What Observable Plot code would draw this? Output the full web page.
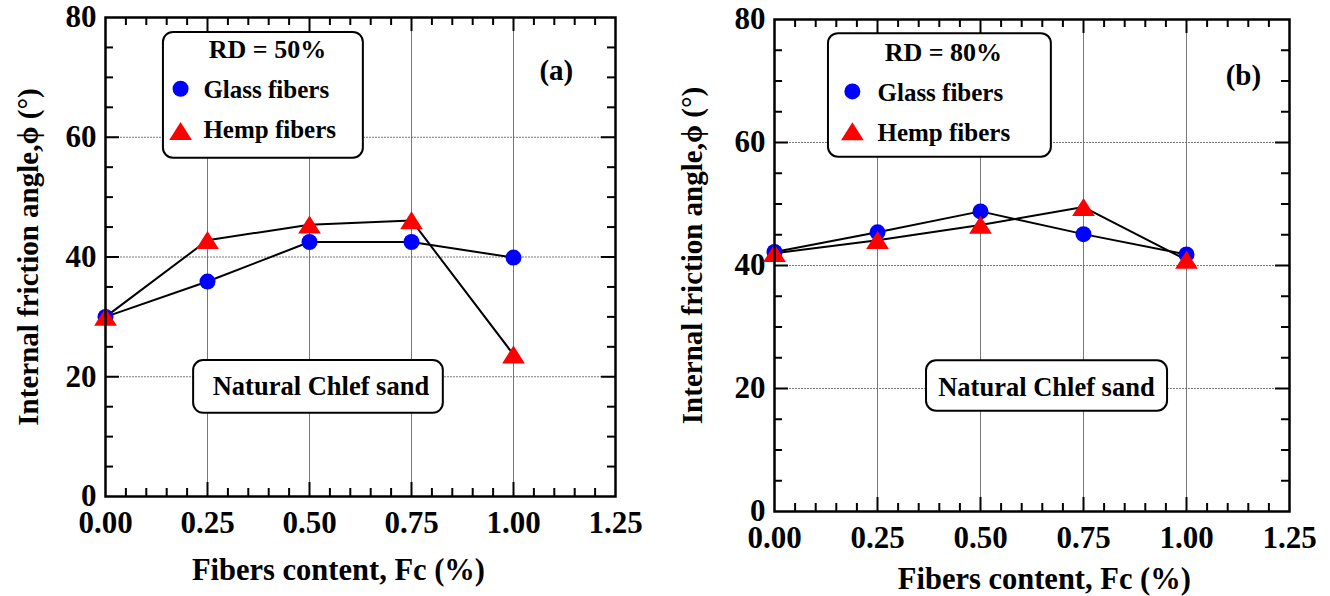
<!DOCTYPE html>
<html><head><meta charset="utf-8">
<script src="https://cdn.jsdelivr.net/npm/d3@7"></script>
<script src="https://cdn.jsdelivr.net/npm/@observablehq/plot@0.6"></script>
<style>
body{margin:0;background:#fff;}
#wrap{display:flex;width:1330px;height:596px;overflow:hidden;}
#wrap svg, #wrap svg text{font-family:"Liberation Serif","Times New Roman",serif !important;}
</style></head><body><div id="wrap"></div>
<script>
// ---- data ----
const fiberContent = [0, 0.25, 0.5, 0.75, 1.0];
const glassRD50 = [30.0, 35.9, 42.5, 42.5, 39.9];
const hempRD50  = [30.0, 42.8, 45.4, 46.1, 23.7];
const glassRD80 = [42.2, 45.4, 48.8, 45.1, 41.8];
const hempRD80  = [42.0, 44.1, 46.6, 49.5, 40.9];

const seriesNames = ["Glass fibers", "Hemp fibers"];
const panelTitles = ["RD = 50%", "RD = 80%"];
const panelTags = ["(a)", "(b)"];
const noteText = "Natural Chlef sand";
const xTitle = "Fibers content, Fc (%)";
const yTitle = "Internal friction angle,\u03d5 (\u00b0)";

const xMajor = [0, 0.25, 0.5, 0.75, 1.0, 1.25];
const xTickLabels = ["0.00", "0.25", "0.50", "0.75", "1.00", "1.25"];
const yMajor = [0, 20, 40, 60, 80];
const xMinor = [0.05, 0.10, 0.15, 0.20, 0.30, 0.35, 0.40, 0.45, 0.55, 0.60, 0.65, 0.70, 0.80, 0.85, 0.90, 0.95, 1.05, 1.10, 1.15, 1.20];
const yMinor = [5, 10, 15, 25, 30, 35, 45, 50, 55, 65, 70, 75];

const FONT = '"Liberation Serif","Times New Roman",serif';

// triangle centred on its bounding box
const triangle = {
  draw(ctx, size) {
    const r = Math.sqrt(size / Math.PI);
    ctx.moveTo(0, -1.15 * r);
    ctx.lineTo(1.42 * r, 1.1 * r);
    ctx.lineTo(-1.42 * r, 1.1 * r);
    ctx.closePath();
  }
};

function panel(cfg) {
  const W = 665, H = 596;
  const xPx = (W - cfg.ml - cfg.mr) / 1.25;
  const yPx = (H - cfg.mt - cfg.mb) / 80;
  const maj = 14, mnr = 8;
  const glass = fiberContent.map((x, i) => ({x, y: cfg.glass[i]}));
  const hemp = fiberContent.map((x, i) => ({x, y: cfg.hemp[i]}));
  const tickStyle = {stroke: "black", strokeWidth: 2};
  const rules = [];
  for (const [arr, len] of [[xMajor.slice(1, -1), maj], [xMinor, mnr]]) {
    rules.push(Plot.ruleX(arr, {x: d => d, y1: 0, y2: len / yPx, ...tickStyle}));
    rules.push(Plot.ruleX(arr, {x: d => d, y1: 80 - len / yPx, y2: 80, ...tickStyle}));
  }
  for (const [arr, len] of [[yMajor.slice(1, -1), maj], [yMinor, mnr]]) {
    rules.push(Plot.ruleY(arr, {y: d => d, x1: 0, x2: len / xPx, ...tickStyle}));
    rules.push(Plot.ruleY(arr, {y: d => d, x1: 1.25 - len / xPx, x2: 1.25, ...tickStyle}));
  }
  const L = cfg.legend, N = cfg.note;
  return Plot.plot({
    width: W, height: H,
    marginLeft: cfg.ml, marginRight: cfg.mr, marginTop: cfg.mt, marginBottom: cfg.mb,
    x: {domain: [0, 1.25]},
    y: {domain: [0, 80]},
    style: {fontFamily: FONT, fontWeight: "bold", color: "black", background: "white", overflow: "visible"},
    marks: [
      Plot.gridX(xMajor.slice(1, -1), {stroke: "#555", strokeOpacity: 1, strokeWidth: 0.8}),
      Plot.gridY(yMajor.slice(1, -1), {stroke: "#555", strokeOpacity: 1, strokeWidth: 0.8, strokeDasharray: "2,1"}),
      ...rules,
      Plot.axisX(xMajor, {tickSize: 0, tickPadding: 14, fontSize: 31, fontWeight: "bold",
        tickFormat: d => xTickLabels[xMajor.indexOf(d)], label: null}),
      Plot.axisY(yMajor, {tickSize: 0, tickPadding: 9, fontSize: 31, fontWeight: "bold", label: null}),
      Plot.line(glass, {x: "x", y: "y", stroke: "black", strokeWidth: 2}),
      Plot.line(hemp, {x: "x", y: "y", stroke: "black", strokeWidth: 2}),
      Plot.dot(glass, {x: "x", y: "y", r: 8, fill: "#0000ff"}),
      Plot.dot(hemp, {x: "x", y: "y", r: 8, fill: "#ff0000", symbol: triangle}),
      // legend box
      Plot.rect([L], {x1: d => d.x1, x2: d => d.x2, y1: d => d.y1, y2: d => d.y2, rx: 10,
        fill: "white", stroke: "black", strokeWidth: 2}),
      Plot.text([cfg.title], {x: () => L.tx, y: () => L.ty, fontSize: 26, lineAnchor: "bottom"}),
      Plot.dot([seriesNames[0]], {x: () => L.sx, y: () => L.gy, r: 8, fill: "#0000ff"}),
      Plot.dot([seriesNames[1]], {x: () => L.sx, y: () => L.hy, r: 8, fill: "#ff0000", symbol: triangle}),
      Plot.text([seriesNames[0]], {x: () => L.lx, y: () => L.gty, fontSize: 25, textAnchor: "start", lineAnchor: "bottom"}),
      Plot.text([seriesNames[1]], {x: () => L.lx, y: () => L.hty, fontSize: 25, textAnchor: "start", lineAnchor: "bottom"}),
      Plot.text([cfg.tag], {x: () => cfg.tagX, y: () => cfg.tagY, fontSize: 29, lineAnchor: "bottom"}),
      // note box
      Plot.rect([N], {x1: d => d.x1, x2: d => d.x2, y1: d => d.y1, y2: d => d.y2, rx: 10,
        fill: "white", stroke: "black", strokeWidth: 2}),
      Plot.text([noteText], {x: () => N.tx, y: () => N.ty, fontSize: 26.5, lineAnchor: "bottom"}),
      // axis titles
      Plot.text([xTitle], {x: () => cfg.xtX, frameAnchor: "bottom", dy: cfg.xtDy, fontSize: 30.5, lineAnchor: "bottom"}),
      Plot.text([yTitle], {frameAnchor: "left", textAnchor: "middle", rotate: -90, dx: cfg.ytDx, dy: cfg.ytDy, fontSize: 29}),
      Plot.frame({stroke: "black", strokeWidth: 2.5})
    ]
  });
}

const left = panel({
  ml: 105, mr: 50, mt: 17, mb: 100,
  glass: glassRD50, hemp: hempRD50, title: panelTitles[0], tag: panelTags[0],
  legend: {x1: 0.142, x2: 0.632, y1: 56.5, y2: 77.5, tx: 0.397, ty: 73.2, sx: 0.184, gy: 68.1, hy: 61.0, lx: 0.240, gty: 66.5, hty: 59.8},
  note: {x1: 0.216, x2: 0.828, y1: 13.9, y2: 22.7, tx: 0.528, ty: 17.0},
  tagX: 1.105, tagY: 69.5,
  xtX: 0.571, xtDy: 83, ytDx: -77, ytDy: 0
});
const right = panel({
  ml: 109, mr: 41, mt: 19, mb: 85,
  glass: glassRD80, hemp: hempRD80, title: panelTitles[1], tag: panelTags[1],
  legend: {x1: 0.131, x2: 0.672, y1: 57.6, y2: 77.7, tx: 0.41, ty: 73.3, sx: 0.189, gy: 68.3, hy: 61.8, lx: 0.25, gty: 66.8, hty: 60.3},
  note: {x1: 0.369, x2: 0.954, y1: 16.3, y2: 24.5, tx: 0.66, ty: 18.7},
  tagX: 1.138, tagY: 69.3,
  xtX: 0.655, xtDy: 77, ytDx: -82, ytDy: -10
});
document.getElementById("wrap").append(left, right);
</script>
</body></html>
